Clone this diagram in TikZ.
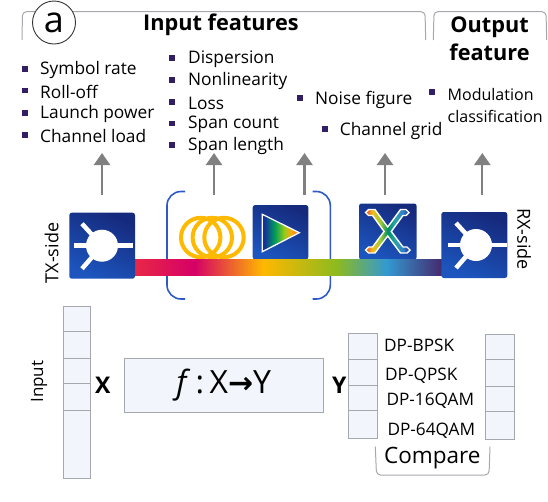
\documentclass[tikz,border=0pt]{standalone}
\usepackage{fontspec}
\setmainfont{Open Sans}
\newfontfamily\arrowfont{DejaVu Sans}
\usetikzlibrary{arrows.meta}
\definecolor{cellfill}{RGB}{242,246,252}
\definecolor{cellline}{RGB}{165,168,172}
\definecolor{bulletcol}{RGB}{50,30,100}
\definecolor{bracketblue}{RGB}{45,90,200}
\definecolor{coilcol}{RGB}{255,185,0}
\definecolor{tileA}{RGB}{22,42,125}
\definecolor{tileB}{RGB}{28,85,190}
\pgfdeclarehorizontalshading{fibre}{100bp}{
  rgb(0bp)=(0.91,0.16,0.27);
  rgb(25bp)=(0.91,0.16,0.27);
  rgb(35bp)=(0.84,0,0.40);
  rgb(46bp)=(1,0.72,0);
  rgb(58bp)=(0.55,0.73,0.12);
  rgb(66bp)=(0.2,0.6,0.82);
  rgb(75bp)=(0.27,0.16,0.43);
  rgb(100bp)=(0.27,0.16,0.43)}
\pgfdeclarehorizontalshading{ampfill}{100bp}{
  rgb(0bp)=(0.08,0.2,0.6);
  rgb(28bp)=(0.08,0.2,0.6);
  rgb(42bp)=(0,0.62,0.35);
  rgb(55bp)=(0.6,0.8,0.1);
  rgb(64bp)=(1,0.65,0.05);
  rgb(75bp)=(0.95,0.45,0.1);
  rgb(100bp)=(0.95,0.45,0.1)}
\pgfdeclarehorizontalshading{crossfill}{100bp}{
  rgb(0bp)=(0.9,0.3,0.2);
  rgb(25bp)=(0.9,0.3,0.2);
  rgb(33bp)=(0.95,0.75,0.1);
  rgb(42bp)=(0.6,0.8,0.2);
  rgb(50bp)=(0,0.55,0.4);
  rgb(58bp)=(0.15,0.65,0.65);
  rgb(67bp)=(0.2,0.5,0.8);
  rgb(75bp)=(0.12,0.15,0.5);
  rgb(100bp)=(0.12,0.15,0.5)}
\tikzset{
  tile/.style={rounded corners=2.5pt, top color=tileA, bottom color=tileB, shading angle=-25},
  feature/.style={anchor=west, inner sep=0pt, yshift=-1.2pt, font=\fontsize{17.3}{22}\selectfont, text=black},
  bullet/.style={fill=bulletcol, minimum size=5.2pt, inner sep=0pt},
  heading/.style={font=\fontsize{21.7}{28}\selectfont\bfseries, align=center, inner sep=0pt},
  cell/.style={draw=cellline, fill=cellfill, line width=1pt},
  cellrule/.style={draw=cellline, line width=1pt},
  brace/.style={draw=cellline, line width=1pt, rounded corners=4pt},
  upward/.style={draw=black!50, line width=2.3pt, -{Triangle[width=16pt,length=12pt]}},
  bracket/.style={draw=bracketblue, line width=1.6pt, rounded corners=14pt},
  coil/.style={draw=coilcol, line width=4pt},
  modlabel/.style={anchor=west, inner sep=0pt, yshift=-1.2pt, font=\fontsize{17.2}{20}\selectfont, text=black},
  sidelabel/.style={font=\fontsize{18}{20}\selectfont, inner sep=0pt, text=black},
  symb/.style={font=\fontsize{23}{26}\selectfont\bfseries, inner sep=0pt}
}
\newcommand{\splitter}[2]{
  \draw[white, line width=4.5pt] (#1-28,#2) -- (#1+31,#2);
  \draw[white, line width=4.5pt] (#1-20,#2-22) -- (#1,#2);
  \draw[white, line width=4.5pt] (#1-20,#2+23) -- (#1,#2);
  \fill[white] (#1,#2) circle[radius=16];
}
\begin{document}
\begin{tikzpicture}[x=1pt,y=-1pt]
  \useasboundingbox (0,0) rectangle (548,501);
  % top braces
  \draw[brace] (22,40) -- (22.5,11.7) -- (425,11.7) -- (425.7,40);
  \draw[brace] (433.3,40) -- (434,11.7) -- (546,11.7) -- (546.7,40);
  \node[draw=black!80, fill=white, circle, minimum size=43pt, inner sep=0pt, line width=0.9pt,
    font=\fontsize{36}{38}\selectfont] (tag) at (54,22.5) {a};
  \node[heading] (inputhead) at (221,24.5) {Input features};
  \node[heading] (outputhead) at (489.5,38.5) {Output\\feature};
  % feature lists
  \foreach \name/\yy in {Symbol rate/69,Roll-off/90.5,Launch power/113,Channel load/135}
    {\node[bullet] at (25,\yy) {}; \node[feature] at (40,\yy) {\name};}
  \foreach \name/\yy in {Dispersion/58,Nonlinearity/80,Loss/102,Span count/123.5,Span length/145}
    {\node[bullet] at (172,\yy) {}; \node[feature] at (188,\yy) {\name};}
  \node[bullet] at (300,98) {};
  \node[feature] (noise) at (315,99) {Noise figure};
  \node[bullet] at (325,129) {};
  \node[feature] (grid) at (339.7,130) {Channel grid};
  \node[bullet] at (432,92) {};
  \node[feature, align=left, font=\fontsize{16}{22}\selectfont] (modclass) at (447.5,104) {Modulation\\classification};
  % arrows
  \foreach \xx/\nm in {102/a,214/b,304.5/c,385/d,482.3/e}
    {\coordinate (from\nm) at (\xx,195); \coordinate (to\nm) at (\xx,153);
     \draw[upward] (from\nm) -- (to\nm);}
  % brackets, fibre span
  \draw[bracket] (185,191.5) -- (167,191.5) -- (167,299) -- (185,299);
  \draw[bracket] (312.7,191.5) -- (330.3,191.5) -- (330.3,299) -- (312.7,299);
  \foreach \xx in {200.7,212.3,224}
    \draw[coil] (\xx,237.5) circle[radius=19.7];
  \path[tile] (252.7,205) rectangle (308.3,259.5);
  \shade[shading=ampfill, draw=white, line width=1.3pt] (262.3,214.3) -- (299.3,232.7) -- (262.3,251.7) -- cycle;
  \path[tile] (359,203.5) rectangle (416.7,259.5);
  \shade[shading=crossfill, draw=white, line width=1.4pt]
    (368.5,209.5) -- (375,209.5) -- (387.7,227) -- (400.5,209.5) -- (406,209.5) -- (409,212.5) -- (406,215.5) -- (403,215.5) -- (391.3,231.5) -- (403,247) -- (407,247) -- (410,250) -- (407,253) -- (400.5,253) -- (387.7,236) -- (375,253) -- (368.5,253) -- (365.5,250) -- (368.5,247) -- (372.5,247) -- (384.1,231.5) -- (372.5,215.5) -- (368.5,215.5) -- (365.5,212.5) -- cycle;
  \shade[shading=fibre] (133,259) rectangle (442,275.7);
  \path[tile] (69.3,212.7) rectangle (135,278.7);
  \splitter{102}{245.7}
  \path[tile] (441.3,212) rectangle (507.3,278);
  \splitter{476}{245}
  \node[sidelabel, rotate=90] (txside) at (51.7,253) {TX-side};
  \node[sidelabel, rotate=-90] (rxside) at (524,239) {RX-side};
  % input vector
  \path[cell] (63.3,306.7) rectangle (90.7,478);
  \foreach \yy in {331.7,358.3,383.3,410}
    \draw[cellrule] (63.3,\yy) -- (90.7,\yy);
  \node[sidelabel, rotate=90, font=\fontsize{17}{20}\selectfont] (inputlab) at (39,381.7) {Input};
  \node[symb] (xlab) at (102.7,385) {X};
  \node[cell, minimum width=199pt, minimum height=54.5pt, inner sep=0pt,
    font=\fontsize{32}{34}\selectfont] (mapbox) at (223.7,385.3)
    {\textit{f}\,:\,X{\arrowfont\bfseries\fontsize{30}{34}\selectfont→}Y};
  \node[symb] (ylab) at (339.3,385) {Y};
  % output vectors
  \path[cell] (348.7,333.3) rectangle (377.3,438.3);
  \foreach \yy in {359,385.7,410.3}
    \draw[cellrule] (348.7,\yy) -- (377.3,\yy);
  \path[cell] (485.7,334) rectangle (514.3,439);
  \foreach \yy in {359.3,386.7,411}
    \draw[cellrule] (485.7,\yy) -- (514.3,\yy);
  \node[modlabel] (bpsk) at (384,344) {DP-BPSK};
  \node[modlabel] (qpsk) at (385,375) {DP-QPSK};
  \node[modlabel] (qamsm) at (386.3,400) {DP-16QAM};
  \node[modlabel] (qamlg) at (387.3,430) {DP-64QAM};
  \draw[brace] (375.3,446.7) -- (376.5,475) -- (489,475) -- (490,446.7);
  \node[inner sep=0pt, font=\fontsize{22.5}{24}\selectfont, text=black] (compare) at (432.3,458) {Compare};
\end{tikzpicture}
\end{document}
